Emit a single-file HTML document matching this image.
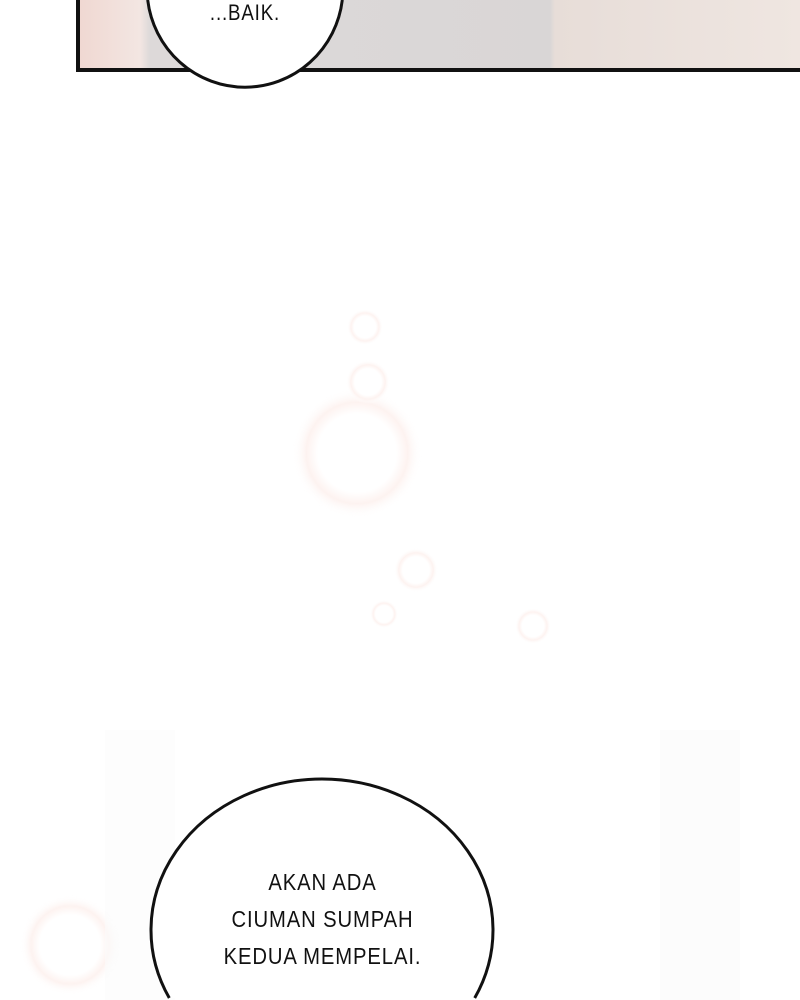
<!DOCTYPE html>
<html><head><meta charset="utf-8"><style>
html,body{margin:0;padding:0;overflow:hidden;width:800px;height:1000px}
#wrap{width:800px;height:1000px;background:#fff;position:relative;overflow:hidden;font-family:"Liberation Sans",sans-serif}
.abs{position:absolute}
.txt{color:#111;text-align:center;letter-spacing:1px}
</style></head><body>
<div id="wrap">
<div class="abs" style="left:76px;top:0;width:720px;height:68px;border-left:4px solid #111;border-bottom:4px solid #111;box-sizing:content-box;background:linear-gradient(90deg,#f0d8d2 0px,#f3e6e2 60px,#ddd9d9 70px,#d9d6d6 470px,#e7ddd8 475px,#efe6e1 720px)"></div>
<svg class="abs" style="left:0;top:0" width="800" height="1000">
<defs><radialGradient id="g"><stop offset="0.6" stop-color="#fff"/><stop offset="0.78" stop-color="#fbe6e1"/><stop offset="1" stop-color="#fff" stop-opacity="0"/></radialGradient></defs>
<g opacity="0.5">
<circle cx="357" cy="453" r="65" fill="url(#g)"/>
<circle cx="365" cy="327" r="18" fill="url(#g)"/>
<circle cx="368" cy="382" r="22" fill="url(#g)"/>
<circle cx="416" cy="570" r="22" fill="url(#g)"/>
<circle cx="533" cy="626" r="18" fill="url(#g)"/>
<circle cx="384" cy="614" r="14" fill="url(#g)"/>
<circle cx="70" cy="945" r="50" fill="url(#g)"/>
<rect x="105" y="730" width="70" height="270" fill="#f7f7f7" opacity="0.6"/>
<rect x="660" y="730" width="80" height="270" fill="#f5f5f5" opacity="0.6"/>
</g>
<path d="M147.7,0 A98,99 0 0 0 342.3,0" fill="#fff" stroke="#111" stroke-width="3"/>
<path d="M169.3,998 A171,151 0 1 1 474.7,998" fill="#fff" stroke="#111" stroke-width="3"/>
</svg>
<div class="abs txt" style="left:180px;top:0px;width:130px;font-size:22px;transform:scaleX(0.85)">...BAIK.</div>
<div class="abs txt" style="left:160px;top:864px;width:325px;font-size:23px;line-height:37px;transform:scaleX(0.88)">AKAN ADA<br>CIUMAN SUMPAH<br>KEDUA MEMPELAI.</div>
</div>
</body></html>
